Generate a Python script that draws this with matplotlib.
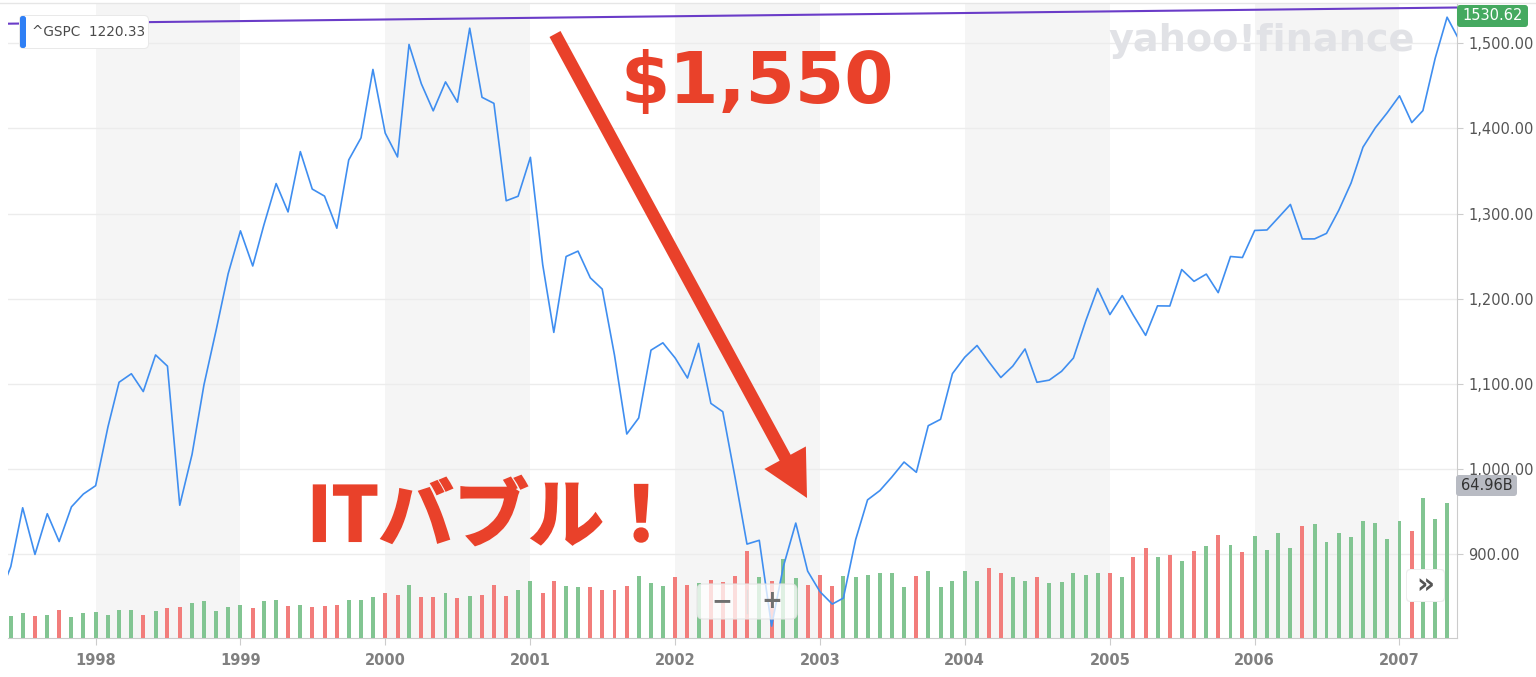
import matplotlib
matplotlib.use('Agg')
import matplotlib.pyplot as plt
import matplotlib.patheffects as pe
from matplotlib.patches import FancyBboxPatch, FancyArrowPatch
from matplotlib.transforms import IdentityTransform
from matplotlib.ticker import FuncFormatter
import pandas as pd

# ^GSPC monthly closes, May 1997 - Jun 2007
months = pd.date_range('1997-05-01', '2007-06-01', freq='MS')
closes = [848.28, 885.14, 954.29, 899.47, 947.28, 914.62, 955.40, 970.43,
          980.28, 1049.34, 1101.75, 1111.75, 1090.82, 1133.84, 1120.67, 957.28, 1017.01, 1098.67, 1163.63, 1229.23,
          1279.64, 1238.33, 1286.37, 1335.18, 1301.84, 1372.71, 1328.72, 1320.41, 1282.71, 1362.93, 1388.91, 1469.25,
          1394.46, 1366.42, 1498.58, 1452.43, 1420.60, 1454.60, 1430.83, 1517.68, 1436.51, 1429.40, 1314.95, 1320.28,
          1366.01, 1239.94, 1160.33, 1249.46, 1255.82, 1224.42, 1211.23, 1133.58, 1040.94, 1059.78, 1139.45, 1148.08,
          1130.20, 1106.73, 1147.39, 1076.92, 1067.14, 989.82, 911.62, 916.07, 815.28, 885.76, 936.31, 879.82,
          855.70, 841.15, 848.18, 916.92, 963.59, 974.50, 990.31, 1008.01, 995.97, 1050.71, 1058.20, 1111.92,
          1131.13, 1144.94, 1126.21, 1107.30, 1120.68, 1140.84, 1101.72, 1104.24, 1114.58, 1130.20, 1173.82, 1211.92,
          1181.27, 1203.60, 1180.59, 1156.85, 1191.50, 1191.33, 1234.18, 1220.33, 1228.81, 1207.01, 1249.48, 1248.29,
          1280.08, 1280.66, 1294.83, 1310.61, 1270.09, 1270.20, 1276.66, 1303.82, 1335.85, 1377.94, 1400.63, 1418.30,
          1438.24, 1406.82, 1420.86, 1482.37, 1530.62, 1503.35]

# monthly volume (billions), Jun 1997 - May 2007
vol_months = pd.date_range('1997-06-01', '2007-05-01', freq='MS')
volumes = [10.73, 11.89, 10.73, 11.21, 13.62, 10.11, 11.89,
           12.51, 11.21, 13.62, 13.62, 11.21, 12.99, 14.29, 14.92, 16.70, 17.80, 12.99, 14.92,
           16.02, 14.29, 17.80, 18.43, 15.54, 16.02, 14.92, 15.54, 16.02, 18.43, 18.43, 19.73,
           21.51, 20.84, 25.65, 19.73, 19.73, 21.51, 19.10, 20.35, 20.84, 25.65, 20.35, 23.24,
           27.57, 21.51, 27.57, 25.17, 24.54, 24.54, 23.24, 23.24, 25.17, 29.98, 26.32, 25.17,
           29.35, 25.65, 26.32, 28.05, 26.95, 29.98, 42.01, 29.35, 27.57, 38.01, 28.73, 25.65,
           30.46, 25.17, 29.98, 29.35, 30.46, 31.13, 31.13, 24.54, 29.98, 32.38, 24.54, 27.57,
           32.38, 27.57, 33.68, 31.13, 29.35, 27.57, 29.35, 26.32, 26.95, 31.13, 30.46, 31.13,
           31.13, 29.35, 38.98, 43.16, 38.98, 40.08, 37.20, 42.01, 44.42, 49.71, 44.90, 41.38,
           49.23, 42.49, 50.53, 43.16, 54.04, 54.71, 46.20, 50.53, 48.60, 56.44, 55.34, 47.49,
           56.44, 51.63, 67.37, 57.12, 64.96]

years = list(range(1998, 2008))
shaded_years = [1998, 2000, 2002, 2004, 2006]
price_ticks = [900, 1000, 1100, 1200, 1300, 1400, 1500]

# drawn trend line (start / end)
trend_dates = [pd.Timestamp('1997-05-25'), pd.Timestamp('2007-05-26')]
trend_values = [1523, 1542]

W, H = 1536, 677
fig = plt.figure(figsize=(W / 100, H / 100), dpi=100)
rect = [8 / W, 39 / H, 1449 / W, 635 / H]
ax = fig.add_axes(rect)

# price axes: bands, grid
for y in shaded_years:
    ax.axvspan(pd.Timestamp(y, 1, 1), pd.Timestamp(y + 1, 1, 1), color='#f5f5f5', lw=0, zorder=0)
ax.set_axisbelow(True)
ax.grid(axis='y', color='#ececec', lw=1)
ax.set_xlim(trend_dates[0], trend_dates[1])
ax.set_ylim(801.3, 1547.3)

# volume bars
axv = ax.twinx()
bar_colors = ['#82c592' if closes[i + 1] >= closes[i] else '#f27d7b' for i in range(len(volumes))]
axv.bar(vol_months, volumes, width=10, color=bar_colors, zorder=2)
axv.set_ylim(0, 305.6)
axv.set_yticks([])
for s in axv.spines.values():
    s.set_visible(False)

# ticks on the right side of the price axes
ax.yaxis.tick_right()
ax.set_yticks(price_ticks)
ax.yaxis.set_major_formatter(FuncFormatter(lambda v, p: f'{v:,.2f}'))
ax.set_xticks([pd.Timestamp(y, 1, 1) for y in years])
ax.set_xticklabels([str(y) for y in years])
ax.tick_params(axis='y', colors='#cccccc', labelcolor='#555555', labelsize=10.5, length=4, pad=4)
ax.tick_params(axis='x', colors='#cccccc', labelcolor='#808080', labelsize=10.5, length=5, pad=6)
for lbl in ax.get_xticklabels():
    lbl.set_fontweight('bold')
for s in ['top', 'left']:
    ax.spines[s].set_visible(False)
for s in ['bottom', 'right']:
    ax.spines[s].set_color('#cccccc')

# price line on top
axl = fig.add_axes(rect, sharex=ax, sharey=ax)
axl.patch.set_visible(False)
axl.axis('off')
axl.plot(months, closes, color='#3f8ef0', lw=1.2)
axl.plot(trend_dates, trend_values, color='#6a3cc8', lw=1.5)

fig.add_artist(plt.Line2D([0, 1], [1 - 3 / H, 1 - 3 / H], color='#e6e6e6', lw=1))

px = IdentityTransform()


def box(x0, y0, x1, y1, color, r=4, alpha=1.0, ec='none'):
    p = FancyBboxPatch((x0, H - y1), x1 - x0, y1 - y0, boxstyle=f'round,pad=0,rounding_size={r}',
                       transform=px, fc=color, ec=ec, alpha=alpha, lw=1)
    fig.add_artist(p)


def ftext(x, y, s, **kw):
    return fig.text(x / W, 1 - y / H, s, **kw)


# watermark
ftext(1108, 51, 'yahoo!finance', fontsize=27.5, fontweight='bold', color='#e1e2e6', va='baseline')

# ticker box
box(19, 15, 149, 49, '#e9e9e9', r=5)
box(20, 16, 148, 48, 'white', r=4)
box(20, 16, 26, 48, '#2f7ff5', r=2.5)
ftext(32, 32, '^GSPC  1220.33', fontsize=9.8, color='#4a4a4a', va='center', ha='left')

# price / volume labels
box(1457, 5, 1528, 27, '#45a960', r=3)
ftext(1492.5, 16, '1530.62', fontsize=10.5, color='white', va='center', ha='center')
box(1456, 475, 1517, 496, '#b8bbc3', r=3)
ftext(1486.5, 485.5, '64.96B', fontsize=10.5, color='#333333', va='center', ha='center')

# zoom control
box(697, 584, 797, 619, 'white', r=6, alpha=0.75, ec='#e4e4e4')
ftext(722, 601, '−', fontsize=18, fontweight='bold', color='#6f6f6f', va='center', ha='center')
ftext(772, 601, '+', fontsize=18, fontweight='bold', color='#6f6f6f', va='center', ha='center')
fig.add_artist(plt.Line2D([747 / W, 747 / W], [1 - 590 / H, 1 - 613 / H], color='#e0e0e0', lw=1))

# >> button
box(1406, 569, 1445, 602, '#eeeeee', r=4)
box(1407, 570, 1444, 601, 'white', r=4)
ftext(1425.5, 585, '»', fontsize=20, fontweight='bold', color='#555555', va='center', ha='center')

# annotations
red = '#e9412a'
ftext(620, 103, '$1,550', fontsize=51, fontweight='bold', color=red, va='baseline', ha='left')
t = ftext(307, 541, 'ITバブル！', fontsize=54, fontweight='bold', color=red, va='baseline', ha='left',
          family=['Noto Sans CJK JP', 'DejaVu Sans'])
t.set_path_effects([pe.withStroke(linewidth=1.5, foreground=red, joinstyle='miter')])
arrow = FancyArrowPatch((555, H - 34), (807, H - 498), transform=px, mutation_scale=1,
                        arrowstyle='simple,head_length=33,head_width=34,tail_width=9',
                        color=red, shrinkA=0, shrinkB=0, lw=0)
fig.add_artist(arrow)

fig.savefig('out.png', dpi=100)
